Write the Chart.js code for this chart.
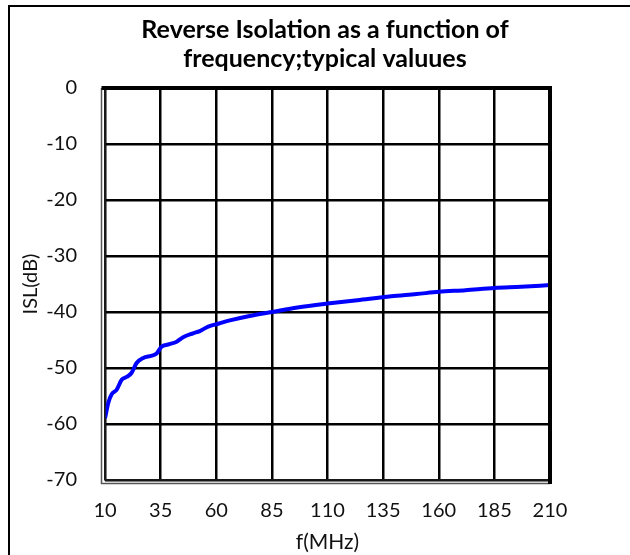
<!DOCTYPE html>
<html>
<head>
<meta charset="utf-8">
<script src="https://cdn.jsdelivr.net/npm/chart.js@4/dist/chart.umd.min.js"></script>
<style>
  html, body { margin: 0; padding: 0; background: #fff; }
  #wrap { width: 630px; height: 555px; position: relative; }
</style>
</head>
<body>
<div id="wrap"><canvas id="c" width="630" height="555"></canvas></div>
<script>
// ---- data ----
const titleLines = ['Reverse Isolation as a function of', 'frequency;typical valuues'];
const xTitle = 'f(MHz)';
const yTitle = 'ISL(dB)';
const xTicks = [10, 35, 60, 85, 110, 135, 160, 185, 210];
const yTicks = [0, -10, -20, -30, -40, -50, -60, -70];
const freqMHz = [10, 11.5, 13, 15.2, 17.5, 19.7, 21.9, 24.2, 27.2, 31, 33.2, 35.4, 38.4, 42.2, 45.1, 49.6, 52.6, 56.4, 60.9, 66.1, 75, 85, 96.5, 110, 123.4, 138.6, 150, 160, 172, 185, 197, 210];
const islDb = [-59.0, -56.2, -54.7, -53.9, -52.1, -51.6, -50.9, -49.1, -48.2, -47.8, -47.4, -46.2, -45.8, -45.3, -44.5, -43.8, -43.4, -42.6, -42.1, -41.5, -40.7, -40.0, -39.2, -38.5, -37.9, -37.2, -36.8, -36.4, -36.1, -35.7, -35.5, -35.2];

const points = freqMHz.map((f, i) => ({ x: f, y: islDb[i] }));

const frame = {
  id: 'frame',
  beforeDraw(chart) {
    const ctx = chart.ctx;
    ctx.save();
    ctx.fillStyle = '#fff';
    ctx.fillRect(0, 0, chart.width, chart.height);
    // outer figure border (extends off right/bottom)
    ctx.strokeStyle = '#000';
    ctx.lineWidth = 2;
    ctx.strokeRect(9, 6, 700, 700);
    ctx.restore();
  },
  afterDatasetsDraw(chart) {
    const { left, right, top, bottom } = chart.chartArea;
    const ctx = chart.ctx;
    ctx.save();
    // left & bottom: gray double line
    ctx.strokeStyle = '#555';
    ctx.lineWidth = 1.5;
    ctx.beginPath();
    ctx.moveTo(left - 3.5, top); ctx.lineTo(left - 3.5, bottom + 3.5); ctx.lineTo(right, bottom + 3.5);
    ctx.stroke();
    ctx.strokeStyle = '#222';
    ctx.beginPath();
    ctx.moveTo(left, top); ctx.lineTo(left, bottom); ctx.lineTo(right, bottom);
    ctx.stroke();
    // top & right: thick black
    ctx.strokeStyle = '#000';
    ctx.lineWidth = 4;
    ctx.beginPath();
    ctx.moveTo(left - 3.5, top); ctx.lineTo(right, top); ctx.lineTo(right, bottom + 4);
    ctx.stroke();
    ctx.restore();
  }
};

const axisFont = { family: 'Lato', size: 20 };

new Chart(document.getElementById('c'), {
  type: 'line',
  data: {
    datasets: [{
      data: points,
      borderColor: '#0000ff',
      borderWidth: 4,
      pointRadius: 0,
      cubicInterpolationMode: 'monotone',
      fill: false
    }]
  },
  options: {
    responsive: false,
    animation: false,
    devicePixelRatio: 1,
    layout: { padding: { left: 20, right: 0, top: 0, bottom: 0 } },
    plugins: {
      legend: { display: false },
      tooltip: { enabled: false },
      title: {
        display: true,
        text: titleLines,
        color: '#000',
        font: { family: 'Lato', size: 25, weight: 'bold', lineHeight: 1.16 },
        padding: { top: 15, bottom: 15 }
      }
    },
    scales: {
      x: {
        type: 'linear',
        min: 10, max: 210,
        afterBuildTicks(scale) { scale.ticks = xTicks.map(v => ({ value: v })); },
        afterFit(scale) { scale.height = 75; },
        ticks: { color: '#111', font: axisFont, padding: 19, maxRotation: 0 },
        grid: { color: '#000', lineWidth: 2.5, drawTicks: false },
        border: { display: false },
        title: { display: true, text: xTitle, color: '#111', font: { family: 'Lato', size: 21, lineHeight: 1.2 }, padding: { top: 0, bottom: 0 } }
      },
      y: {
        type: 'linear',
        min: -70, max: 0,
        afterBuildTicks(scale) { scale.ticks = yTicks.map(v => ({ value: v })); },
        afterFit(scale) { scale.width = 85; },
        ticks: { color: '#111', font: axisFont, padding: 28 },
        grid: { color: '#000', lineWidth: 2.5, drawTicks: false },
        border: { display: false },
        title: { display: true, text: yTitle, color: '#111', font: { family: 'Lato', size: 20, lineHeight: 1.0 }, padding: { top: 1, bottom: 0 } }
      },
      yRight: {
        type: 'linear',
        position: 'right',
        min: -70, max: 0,
        afterFit(scale) { scale.width = 80; },
        ticks: { display: false },
        grid: { display: false, drawTicks: false },
        border: { display: false }
      }
    }
  },
  plugins: [frame]
});
</script>
</body>
</html>
